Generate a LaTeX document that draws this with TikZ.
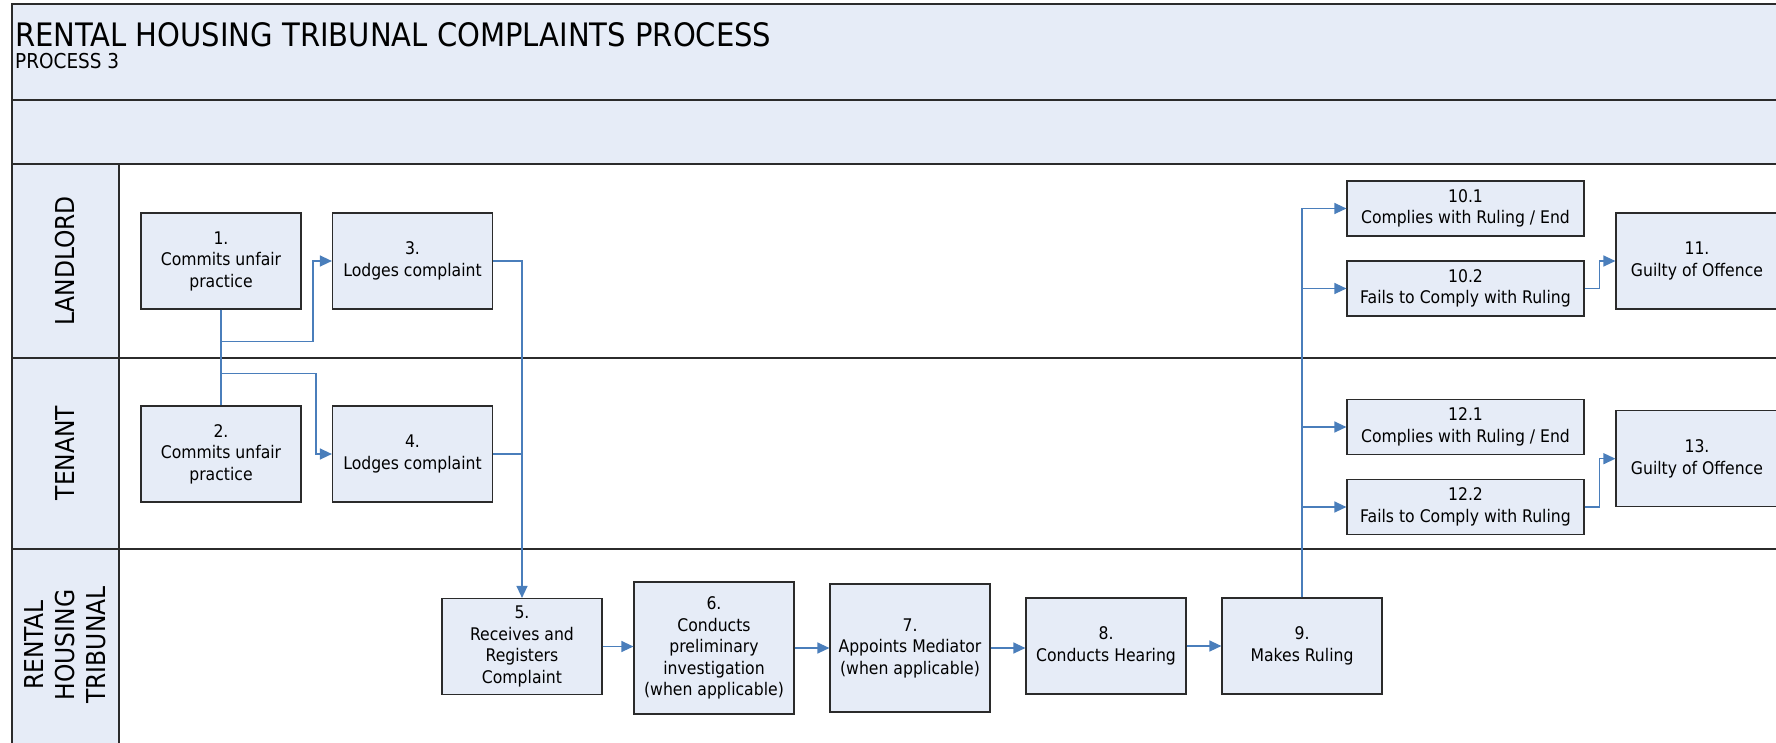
\documentclass[tikz,border=0pt]{standalone}
\usepackage{fontspec}
\setmainfont{DejaVu Sans Condensed}
\usepackage{xcolor}
\usetikzlibrary{
  arrows.meta
}
\definecolor{lanefill}{HTML}{E6ECF7}
\definecolor{flowblue}{HTML}{4A7EBB}
\definecolor{edgegray}{HTML}{2B2B2B}

\begin{document}
\begin{tikzpicture}[
  x=1pt, y=-1pt,
  every node/.style = {align=center, font=\fontsize{17.4}{21.5}\selectfont},
  task/.style = {shape=rectangle, draw=edgegray, line width=1.2pt,
    fill=lanefill, minimum width=160pt, minimum height=96pt, inner sep=1pt},
  wide/.style = {task, minimum width=237pt, minimum height=55pt},
  flow/.style = {draw=flowblue, line width=1.3pt,
    -{Triangle[length=12pt,width=11pt]}},
  link/.style = {draw=flowblue, line width=1.3pt},
  lane/.style = {rotate=90, font=\fontsize{26}{31}\selectfont},
  frame/.style = {draw=edgegray, line width=1.3pt}]
  \useasboundingbox (0,0) rectangle (1776,742);
  \clip (0,0) rectangle (1776,742);

  % pool and lanes
  \fill[lanefill] (12,4) rectangle (1800,164);
  \fill[lanefill] (12,164) rectangle (119,780);
  \draw[frame] (12,4) rectangle (1800,780);
  \draw[frame] (12,100) -- (1800,100);
  \draw[frame] (12,164) -- (1800,164);
  \draw[frame] (119,164) -- (119,780);
  \draw[frame] (12,358) -- (1800,358);
  \draw[frame] (12,549) -- (1800,549);

  \node[anchor=west, inner sep=0, font=\fontsize{32.3}{38}\selectfont] (title)
    at (15,35) {RENTAL HOUSING TRIBUNAL COMPLAINTS PROCESS};
  \node[anchor=west, inner sep=0, font=\fontsize{20.5}{24}\selectfont] (subtitle)
    at (15,61) {PROCESS 3};

  \node[lane] (landlord) at (65.5,261) {LANDLORD};
  \node[lane] (tenant) at (65.5,453) {TENANT};
  \node[lane] (tribunal) at (65.5,645) {RENTAL\\HOUSING\\TRIBUNAL};

  % steps
  \node[task] (b1) at (221,261) {1.\\Commits unfair\\practice};
  \node[task] (b3) at (412.5,261) {3.\\Lodges complaint};
  \node[task] (b2) at (221,454) {2.\\Commits unfair\\practice};
  \node[task] (b4) at (412.5,454) {4.\\Lodges complaint};
  \node[task] (b5) at (522,646.5) {5.\\Receives and\\Registers\\Complaint};
  \node[task, minimum height=132pt] (b6) at (714,648)
    {6.\\Conducts\\preliminary\\investigation\\(when applicable)};
  \node[task, minimum height=128pt] (b7) at (910,648)
    {7.\\Appoints Mediator\\(when applicable)};
  \node[task] (b8) at (1106,646) {8.\\Conducts Hearing};
  \node[task] (b9) at (1302,646) {9.\\Makes Ruling};
  \node[wide] (r101) at (1465.5,208.5) {10.1\\Complies with Ruling / End};
  \node[wide] (r102) at (1465.5,288.5) {10.2\\Fails to Comply with Ruling};
  \node[task, minimum width=162pt] (b11) at (1697,261) {11.\\Guilty of Offence};
  \node[wide] (r121) at (1465.5,427) {12.1\\Complies with Ruling / End};
  \node[wide] (r122) at (1465.5,507) {12.2\\Fails to Comply with Ruling};
  \node[task, minimum width=162pt] (b13) at (1697,458.7) {13.\\Guilty of Offence};

  % connectors
  \draw[flow] (b1.south) |- ++(95,64) |- (b4.west);
  \draw[flow] (b2.north) |- ++(92,-64) |- (b3.west);
  \draw[flow] (b3.east) -| (b5.north);
  \draw[link] (b4.east) -- (b4.east -| b5.north);
  \draw[flow] (b5.east) -- (b6.west |- b5.east);
  \draw[flow] (b6.east) -- (b7.west |- b6.east);
  \draw[flow] (b7.east) -- (b8.west |- b7.east);
  \draw[flow] (b8.east) -- (b9.west);
  \draw[flow] (b9.north) |- (r101.west);
  \draw[flow] (b9.north) |- (r102.west);
  \draw[flow] (b9.north) |- (r121.west);
  \draw[flow] (b9.north) |- (r122.west);
  \draw[flow] (r102.east) -- ++(15,0) |- (b11.west);
  \draw[flow] (r122.east) -- ++(15,0) |- (b13.west);
\end{tikzpicture}
\end{document}
